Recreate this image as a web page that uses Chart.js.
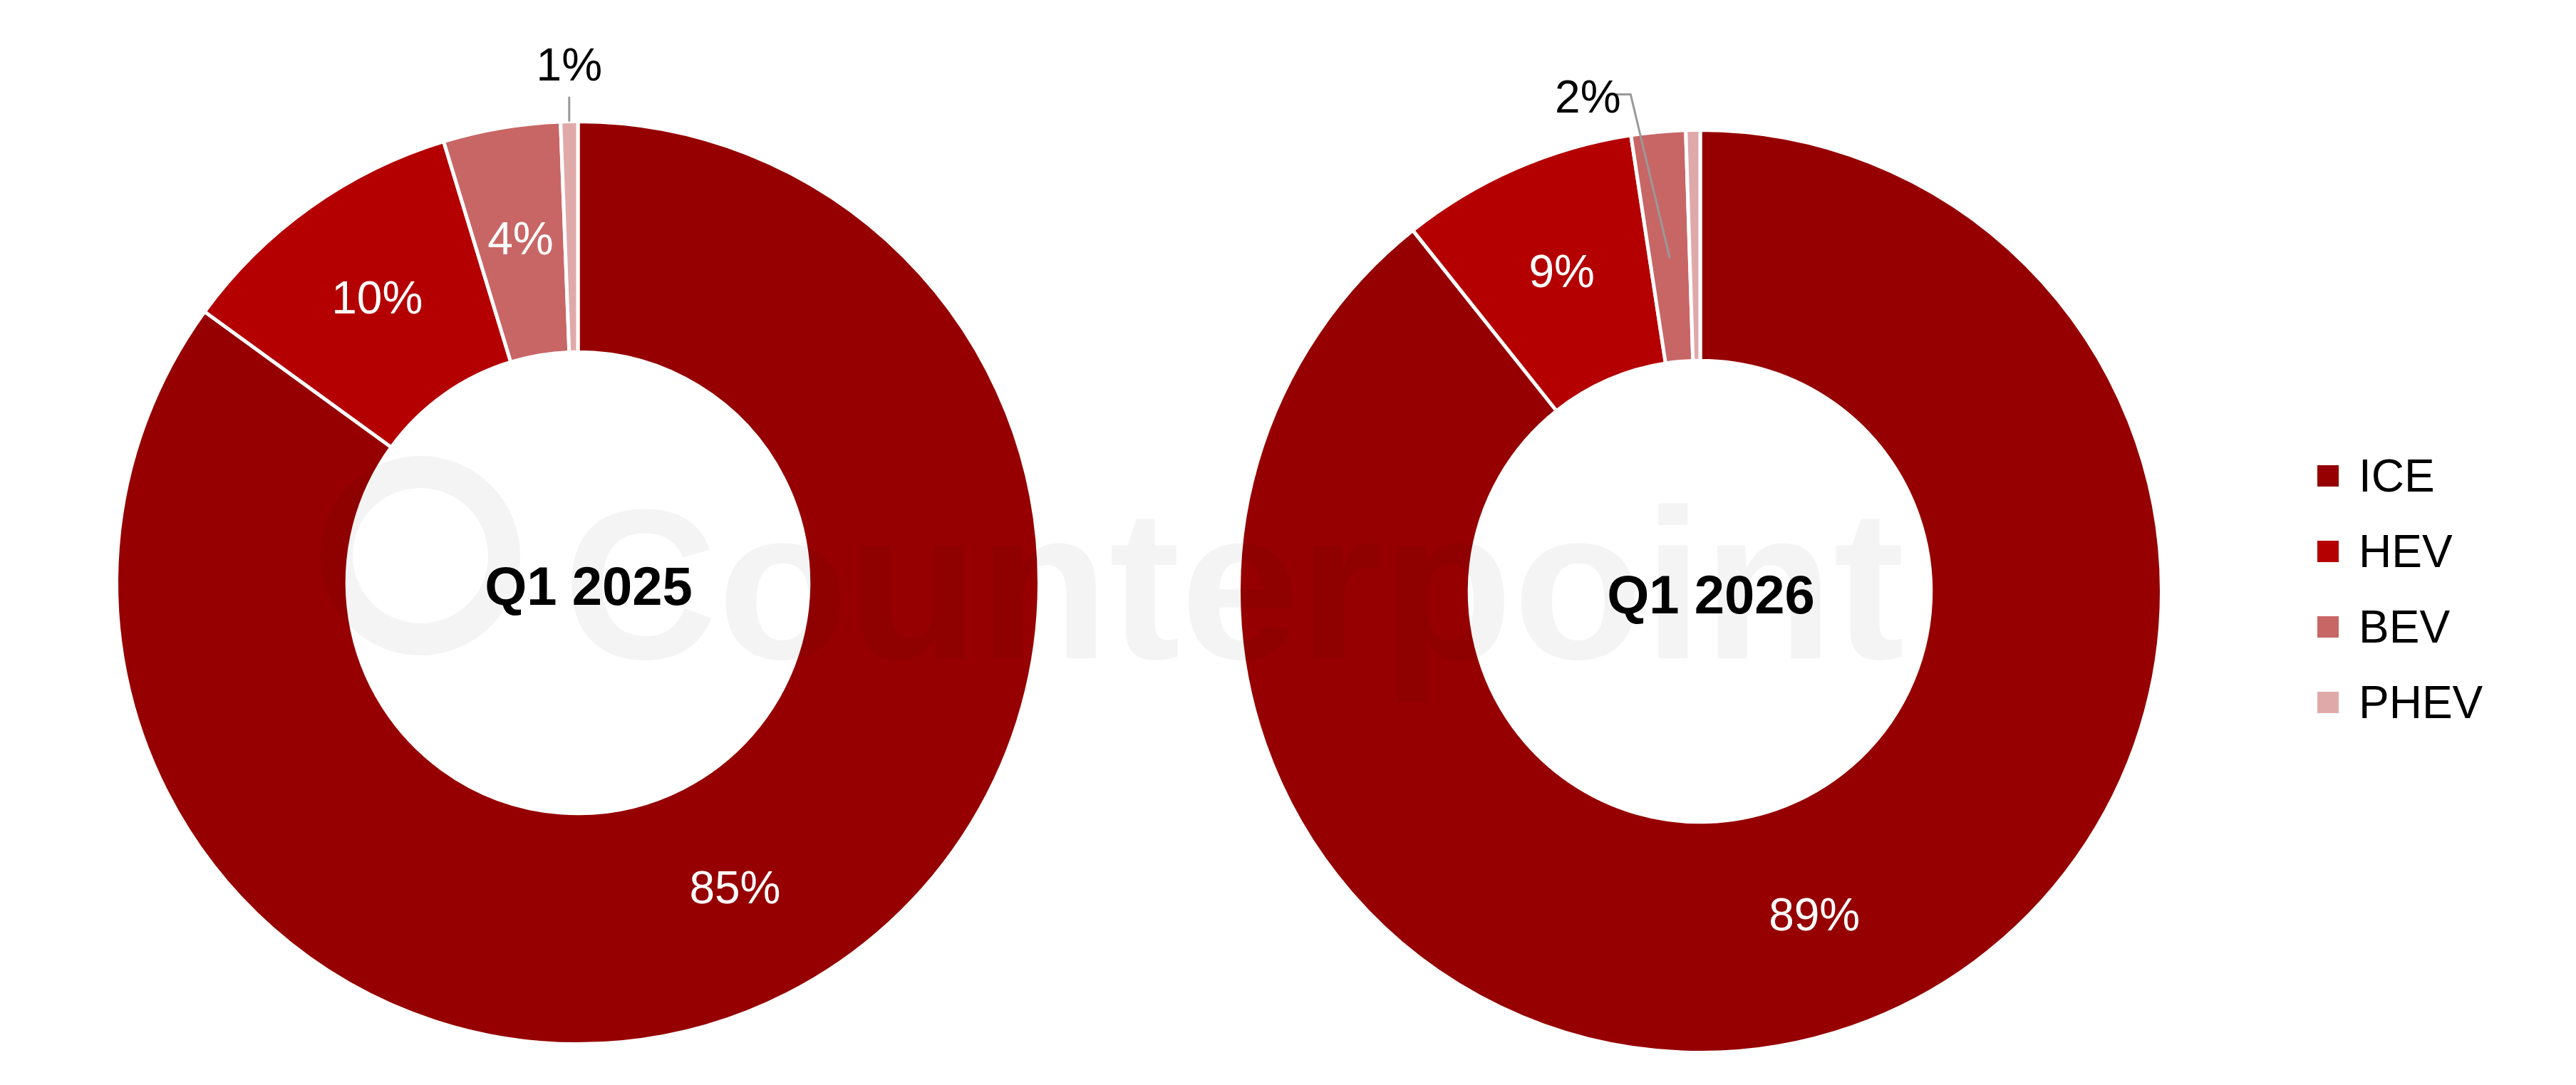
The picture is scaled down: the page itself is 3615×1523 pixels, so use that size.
<!DOCTYPE html>
<html>
<head>
<meta charset="utf-8">
<script src="https://cdn.jsdelivr.net/npm/chart.js@4/dist/chart.umd.min.js"></script>
<style>
  body { margin: 0; width: 3615px; height: 1523px; background: #fff; position: relative; overflow: hidden; font-family: "Liberation Sans", Arial, sans-serif; }
  .box { position: absolute; width: 1600px; height: 1600px; }
  #wm { position: absolute; left: 790px; top: 630px; font-size: 300px; line-height: 380px; font-weight: bold; color: rgba(0,0,0,0.045); white-space: nowrap; z-index: 5; pointer-events: none; }
  #ring { position: absolute; left: 450px; top: 640px; width: 190px; height: 190px; border: 45px solid rgba(0,0,0,0.045); border-radius: 50%; z-index: 5; }
  #legend { position: absolute; left: 3252px; top: 615px; font-size: 64px; color: #000; }
  #legend div { height: 106px; display: flex; align-items: center; }
  #legend span { display: inline-block; width: 30px; height: 30px; margin-right: 28px; }
</style>
</head>
<body>
<div class="box" style="left:11px;top:18px"><canvas id="c1"></canvas></div>
<div class="box" style="left:1586px;top:30px"><canvas id="c2"></canvas></div>
<div id="ring"></div>
<div id="wm">Counterpoint</div>
<div id="legend"></div>
<script>
  var categories = ["ICE", "HEV", "BEV", "PHEV"];
  var colors = ["#960000", "#b40000", "#c86666", "#e0a9a9"];
  var values2025 = [85, 10.3, 4.1, 0.6];
  var labels2025 = ["85%", "10%", "4%", "1%"];
  var values2026 = [89.3, 8.3, 1.9, 0.5];
  var labels2026 = ["89%", "9%", "2%", ""];

  var lg = document.getElementById("legend");
  categories.forEach(function (c, i) {
    lg.innerHTML += '<div><span style="background:' + colors[i] + '"></span>' + c + "</div>";
  });

  var labelPlugin = {
    id: "sliceLabels",
    afterDatasetsDraw: function (chart) {
      var o = chart.options.plugins.sliceLabels;
      var ctx = chart.ctx;
      var arcs = chart.getDatasetMeta(0).data;
      ctx.save();
      ctx.textAlign = "center";
      ctx.textBaseline = "middle";
      arcs.forEach(function (arc, i) {
        var txt = o.labels[i];
        if (!txt) return;
        var out = o.outside[i];
        ctx.font = "64px 'Liberation Sans', Arial";
        if (!out) {
          var p = arc.tooltipPosition();
          ctx.fillStyle = "#fff";
          ctx.fillText(txt, p.x, p.y);
        } else {
          var mid = (arc.startAngle + arc.endAngle) / 2;
          var r = out.r ? arc.innerRadius + (arc.outerRadius - arc.innerRadius) * out.r : arc.outerRadius;
          var ax = arc.x + Math.cos(mid) * r, ay = arc.y + Math.sin(mid) * r;
          ctx.strokeStyle = "#999";
          ctx.lineWidth = 3;
          ctx.beginPath();
          ctx.moveTo(ax, ay);
          ctx.lineTo(ax + out.dx, ay + out.dy);
          if (out.tx) ctx.lineTo(ax + out.dx + out.tx, ay + out.dy);
          ctx.stroke();
          ctx.fillStyle = "#000";
          ctx.fillText(txt, ax + out.lx, ay + out.ly);
        }
      });
      ctx.font = "bold 76px 'Liberation Sans', Arial";
      ctx.fillStyle = "#000";
      var a = arcs[0];
      ctx.fillText(o.title, a.x + 15, a.y + 10);
      ctx.restore();
    }
  };

  function donut(id, values, labels, title, outside) {
    new Chart(id, {
      type: "doughnut",
      data: {
        labels: categories,
        datasets: [{ data: values, backgroundColor: colors, borderColor: "#fff", borderWidth: 5 }],
      },
      options: {
        responsive: true,
        maintainAspectRatio: false,
        animation: false,
        cutout: "50%",
        layout: { padding: 150 },
        plugins: {
          legend: { display: false },
          tooltip: { enabled: false },
          sliceLabels: { labels: labels, outside: outside, title: title },
        },
      },
      plugins: [labelPlugin],
    });
  }

  donut("c1", values2025, labels2025, "Q1 2025",
    [null, null, null, { dx: 0, dy: -35, lx: 0, ly: -75 }]);
  donut("c2", values2026, labels2026, "Q1 2026",
    [null, null, { r: 0.45, dx: -55, dy: -230, tx: -28, lx: -115, ly: -222 }, null]);
</script>
</body>
</html>
